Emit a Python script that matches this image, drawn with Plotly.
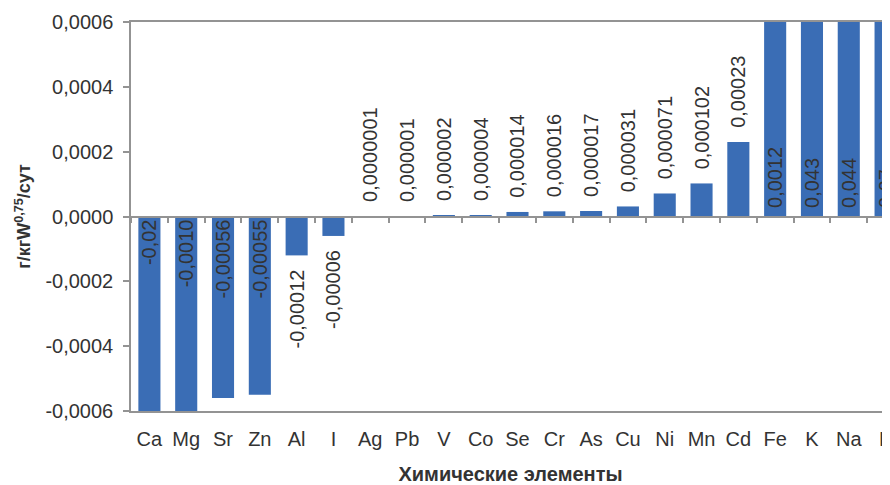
import plotly.graph_objects as go

elements = ["Ca", "Mg", "Sr", "Zn", "Al", "I", "Ag", "Pb", "V", "Co", "Se", "Cr",
            "As", "Cu", "Ni", "Mn", "Cd", "Fe", "K", "Na", "P"]
values = [-0.02, -0.0010, -0.00056, -0.00055, -0.00012, -0.00006, 0.0000001, 0.000001,
          0.000002, 0.000004, 0.000014, 0.000016, 0.000017, 0.000031, 0.000071,
          0.000102, 0.00023, 0.0012, 0.043, 0.044, 0.07]
value_labels = ["-0,02", "-0,0010", "-0,00056", "-0,00055", "-0,00012", "-0,00006",
                "0,0000001", "0,000001", "0,000002", "0,000004", "0,000014", "0,000016",
                "0,000017", "0,000031", "0,000071", "0,000102", "0,00023", "0,0012",
                "0,043", "0,044", "0,07"]
label_positions = ["inside", "inside", "inside", "inside", "outside", "outside",
                   "outside", "outside", "outside", "outside", "outside", "outside",
                   "outside", "outside", "outside", "outside", "outside", "inside",
                   "inside", "inside", "inside"]
y_tick_vals = [0.0006, 0.0004, 0.0002, 0.0, -0.0002, -0.0004, -0.0006]
y_tick_text = ["0,0006", "0,0004", "0,0002", "0,0000", "-0,0002", "-0,0004", "-0,0006"]

FONT = "Liberation Sans, Arial, sans-serif"
TXT = "#333333"
AX = "#939393"
NB = "\u00a0"

# small padding between bar end and its rotated label (text reads bottom-to-top)
shown_text = []
for v, lab, pos in zip(values, value_labels, label_positions):
    if pos == "outside":
        shown_text.append(NB * 2 + lab if v >= 0 else lab + NB * 2)
    else:
        shown_text.append(NB + lab if v >= 0 else lab)

fig = go.Figure()
fig.add_trace(go.Bar(
    x=elements, y=values,
    marker=dict(color="#3a6db5", line=dict(width=0)),
    text=shown_text, textposition=label_positions, textangle=-90,
    insidetextanchor="start", constraintext="none", cliponaxis=True,
    textfont=dict(family=FONT, size=20, color=TXT),
    xaxis="x", yaxis="y", showlegend=False,
))
# invisible trace to carry the zero-line tick axis
fig.add_trace(go.Scatter(
    x=elements, y=[0] * len(elements), mode="markers",
    marker=dict(opacity=0), xaxis="x2", yaxis="y",
    showlegend=False, hoverinfo="skip",
))

x_range = [-0.5, 20.12]
fig.update_layout(
    width=882, height=477,
    margin=dict(l=123, r=0, t=14, b=74, autoexpand=False),
    paper_bgcolor="white", plot_bgcolor="white",
    bargap=0.4,
    font=dict(family=FONT, color=TXT),
    xaxis=dict(
        type="category", categoryorder="array", categoryarray=elements,
        range=x_range, showline=True, linecolor=AX, linewidth=1.5, mirror=True,
        ticks="", showgrid=False, zeroline=False, automargin=False,
        ticklabelstandoff=9,
        tickfont=dict(family=FONT, size=20, color=TXT),
        title=dict(text="<b>Химические элементы</b>",
                   font=dict(family=FONT, size=20, color=TXT), standoff=18),
    ),
    xaxis2=dict(
        type="category", categoryorder="array", categoryarray=elements,
        range=x_range, overlaying="x", anchor="free", position=0.5, side="bottom",
        showline=True, linecolor=AX, linewidth=1.5,
        ticks="outside", tickson="boundaries", ticklen=6, tickcolor=AX, tickwidth=1.5,
        showticklabels=False, showgrid=False, zeroline=False, automargin=False,
    ),
    yaxis=dict(
        range=[-0.0006, 0.0006], tickvals=y_tick_vals, ticktext=y_tick_text,
        showline=True, linecolor=AX, linewidth=1.5, mirror=False,
        ticks="outside", ticklen=6, tickcolor=AX, tickwidth=1.5, ticklabelstandoff=6,
        showgrid=False, zeroline=False, automargin=False,
        tickfont=dict(family=FONT, size=20, color=TXT),
        title=dict(text="<b>г/кгW<sup>0,75</sup>/сут</b>",
                   font=dict(family=FONT, size=18, color=TXT), standoff=10),
    ),
)

fig.write_html("out.html")
